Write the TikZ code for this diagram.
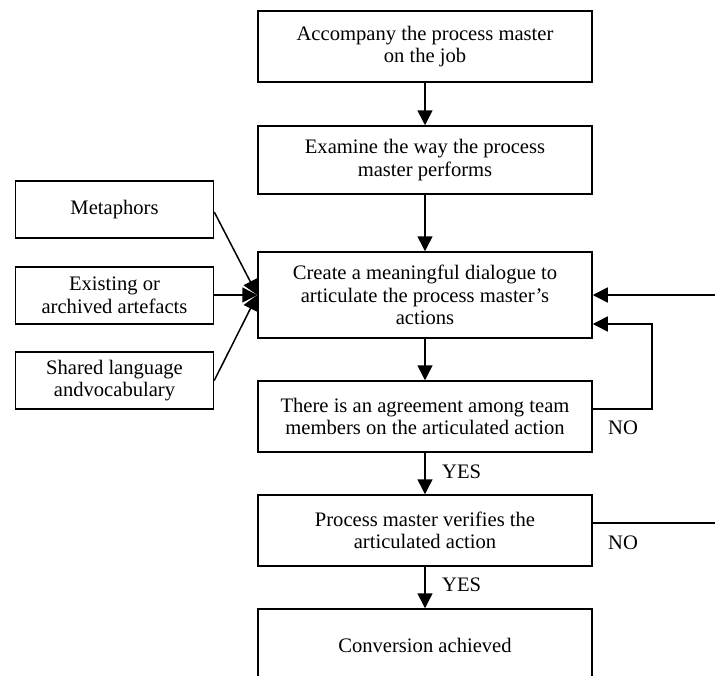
\documentclass[tikz,border=0pt]{standalone}
\usepackage{fontspec}
\setmainfont{Liberation Serif}
\usetikzlibrary{arrows.meta}
\begin{document}
\begin{tikzpicture}[x=1pt,y=-1pt,
  every node/.style={font=\fontsize{20.6}{22.5}\selectfont},
  stepbox/.style={draw, line width=1.5pt, align=center, minimum width=334pt, inner sep=2pt},
  sidebox/.style={draw, line width=1.5pt, align=center, minimum width=198pt, minimum height=57pt, inner sep=2pt},
  arr/.style={line width=1.5pt, -{Triangle[length=15pt,width=15pt]}},
  link/.style={line width=1.5pt},
  tag/.style={anchor=west, inner sep=0pt}]
\useasboundingbox (0,0) rectangle (715,675);
\clip (0,0) rectangle (715,675);

% main column
\node[stepbox, minimum height=71pt] (b1) at (425,46.5) {Accompany the process master\\on the job};
\node[stepbox, minimum height=68pt] (b2) at (425,160) {Examine the way the process\\master performs};
\node[stepbox, minimum height=86pt] (b3) at (425,295) {Create a meaningful dialogue to\\articulate the process master's\\actions};
\node[stepbox, minimum height=71pt] (b4) at (425,416.5) {There is an agreement among team\\members on the articulated action};
\node[stepbox, minimum height=71pt] (b5) at (425,530.5) {Process master verifies the\\articulated action};
\node[stepbox, minimum height=72pt] (b6) at (425,645) {Conversion achieved};

% inputs on the left
\node[sidebox] (meta) at (114.5,209.5) {Metaphors};
\node[sidebox] (arte) at (114.5,295.5) {Existing or\\archived artefacts};
\node[sidebox] (lang) at (114.5,380.5) {Shared language\\andvocabulary};

% flow down the column
\draw[arr] (b1) -- (b2);
\draw[arr] (b2) -- (b3);
\draw[arr] (b3) -- (b4);
\draw[arr] (b4) -- (b5);
\draw[arr] (b5) -- (b6);

% inputs converging on the dialogue step
\draw[arr] (meta.east |- 0,212) -- (b3.west);
\draw[arr] (arte.east |- b3.west) -- (b3.west);
\draw[arr] (lang.east) -- (b3.west);

% feedback loops on the right
\coordinate (loopA) at (652,409);
\coordinate (loopTop) at (652,324);
\coordinate (extIn) at (715,295);
\coordinate (extOut) at (715,523);
\draw[arr] (b4.east |- loopA) -| (loopTop) -- (b3.east |- loopTop);
\draw[arr] (extIn) -- (b3.east);
\draw[link] (b5.east |- extOut) -- (extOut);

% decision labels
\node[tag] (no1) at (608,428) {NO};
\node[tag] (no2) at (608,543) {NO};
\node[tag] (yes1) at (442,472) {YES};
\node[tag] (yes2) at (442,585) {YES};
\end{tikzpicture}
\end{document}
